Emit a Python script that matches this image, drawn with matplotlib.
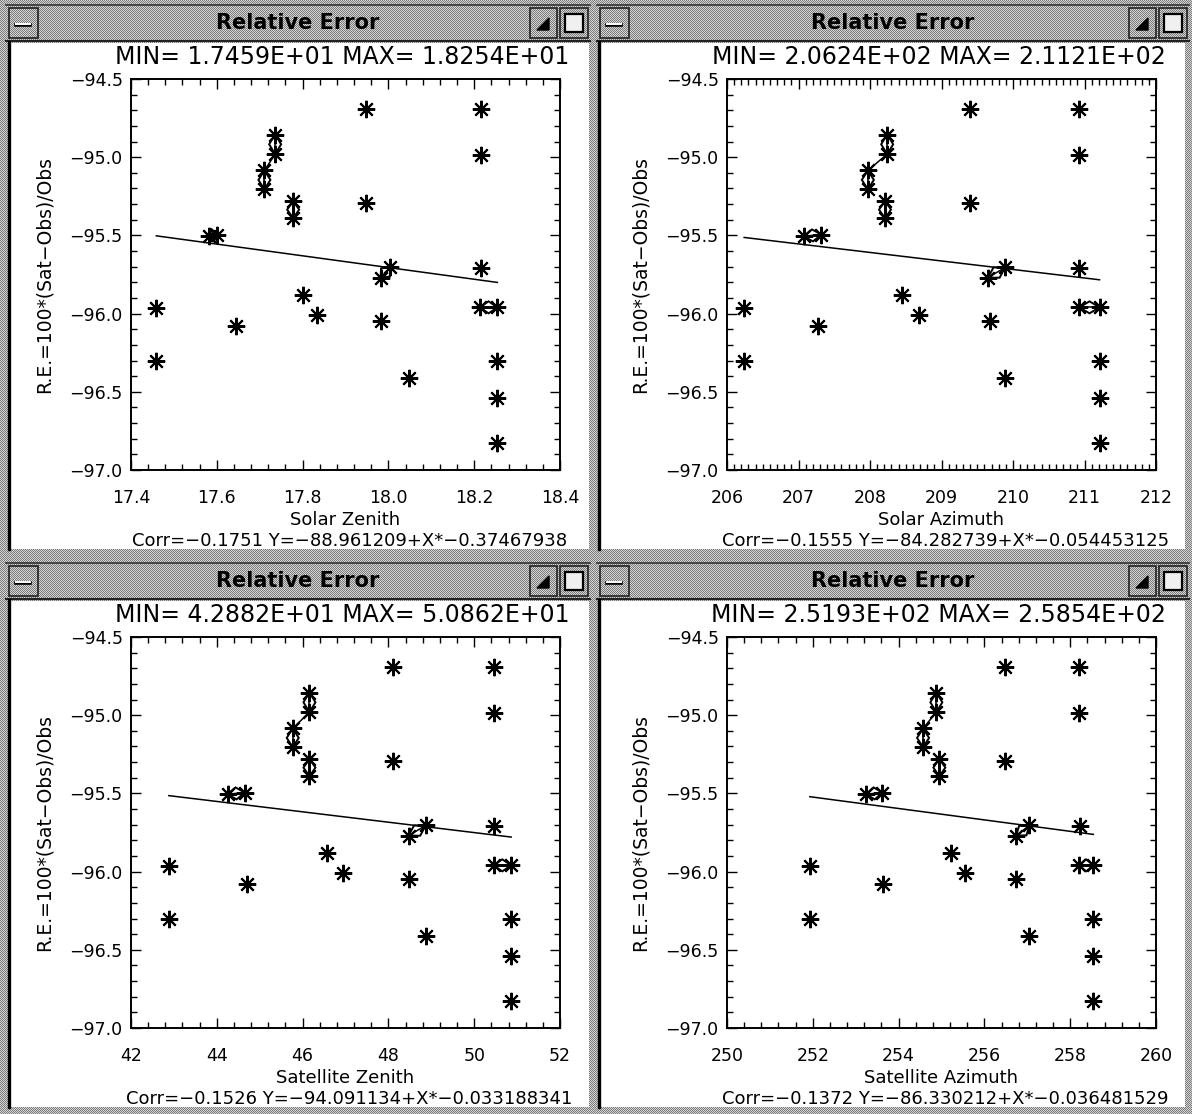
import numpy as np
import matplotlib
matplotlib.use("Agg")
import matplotlib.pyplot as plt
from matplotlib.patches import Rectangle, Polygon
from matplotlib.colors import ListedColormap
from matplotlib.ticker import MultipleLocator, FuncFormatter

# ---------------- data ----------------
rel_error = [-94.69, -94.69, -94.855, -94.98, -95.085, -95.205, -94.985, -95.28, -95.39, -95.29,
             -95.505, -95.495, -95.705, -95.77, -95.71, -95.965, -96.30, -96.08, -95.88, -96.01,
             -96.045, -96.41, -95.96, -95.96, -96.30, -96.54, -96.83]
solar_zenith = [17.947, 18.216, 17.736, 17.736, 17.711, 17.711, 18.216, 17.778, 17.778, 17.947,
                17.582, 17.600, 18.004, 17.982, 18.216, 17.459, 17.459, 17.644, 17.800, 17.834,
                17.982, 18.047, 18.213, 18.254, 18.254, 18.254, 18.254]
solar_azimuth = [209.40, 210.93, 208.24, 208.24, 207.97, 207.97, 210.93, 208.21, 208.21, 209.40,
                 207.07, 207.32, 209.89, 209.65, 210.93, 206.24, 206.24, 207.27, 208.45, 208.69,
                 209.68, 209.89, 210.93, 211.21, 211.21, 211.21, 211.21]
sat_zenith = [48.11, 50.46, 46.16, 46.16, 45.77, 45.77, 50.46, 46.16, 46.16, 48.11,
              44.25, 44.65, 48.87, 48.47, 50.46, 42.88, 42.88, 44.70, 46.56, 46.94,
              48.47, 48.87, 50.45, 50.86, 50.86, 50.86, 50.86]
sat_azimuth = [256.47, 258.20, 254.88, 254.88, 254.57, 254.57, 258.20, 254.95, 254.95, 256.47,
               253.24, 253.62, 257.05, 256.74, 258.23, 251.93, 251.93, 253.63, 255.23, 255.54,
               256.74, 257.05, 258.20, 258.54, 258.54, 258.54, 258.54]

x_series = [solar_zenith, solar_azimuth, sat_zenith, sat_azimuth]
x_names = ["Solar Zenith", "Solar Azimuth", "Satellite Zenith", "Satellite Azimuth"]
x_min = [17.459, 206.24, 42.882, 251.93]
x_max = [18.254, 211.21, 50.862, 258.54]
corr = [-0.1751, -0.1555, -0.1526, -0.1372]
intercept = [-88.961209, -84.282739, -94.091134, -86.330212]
slope = [-0.37467938, -0.054453125, -0.033188341, -0.036481529]
x_limits = [(17.4, 18.4), (206, 212), (42, 52), (250, 260)]
x_major = [0.2, 1, 2, 2]
x_minor = [0.04, 0.1, 0.4, 0.4]
x_decimals = [1, 0, 0, 0]
y_limits = (-97.0, -94.5)
window_title = "Relative Error"
y_label = "R.E.=100*(Sat\u2212Obs)/Obs"

# pairs of consecutive observations drawn joined (diamond) and plain links
diamond_pairs = [(2, 3), (4, 5), (7, 8), (10, 11), (12, 13), (22, 23)]
line_pairs = [(3, 4)]

# ---------------- layout ----------------
W, H = 1192, 1114
fig = plt.figure(figsize=(W / 100, H / 100), dpi=100)
plt.rcParams['font.family'] = ['DejaVu Sans']

bg = fig.add_axes([0, 0, 1, 1])
bg.set_xlim(0, W)
bg.set_ylim(H, 0)
bg.axis("off")

yy, xx = np.mgrid[0:H, 0:W]
tex = ((xx + yy) % 2).astype(float)
bg.imshow(tex, cmap=ListedColormap(["#7c7c7c", "#d4d4d4"]), extent=(0, W, H, 0),
          interpolation="nearest", aspect="auto", zorder=0)

win_x0 = [10, 600]
win_x1 = [589, 1185]
bar_x0 = [6, 597]
bar_x1 = [590, 1189]
row_off = [0, 558]
col_off = [0, 596]


def draw_window(c, r):
    oy = row_off[r]
    x0, x1 = win_x0[c], win_x1[c]
    bx0, bx1 = bar_x0[c], bar_x1[c]
    bg.plot([bx0, bx1], [5 + oy, 5 + oy], color="#333333", lw=1.2, zorder=2)
    bg.plot([bx0, bx1], [41 + oy, 41 + oy], color="#222222", lw=1.5, zorder=2)
    bg.add_patch(Rectangle((x0, 43 + oy), x1 - x0, 506, facecolor="white",
                           edgecolor="none", zorder=1))
    bg.plot([x0 - 1, x0 - 1], [42 + oy, 549 + oy], color="black", lw=2.4, zorder=2)
    bg.add_patch(Rectangle((bx0 + 3, 8 + oy), 29, 30, facecolor="none",
                           edgecolor="#222222", lw=1.2, zorder=2))
    bg.plot([bx0 + 10, bx0 + 24], [25 + oy, 25 + oy], color="black", lw=2.6, zorder=3)
    bg.plot([bx0 + 10, bx0 + 24], [23.5 + oy, 23.5 + oy], color="white", lw=1.4, zorder=3)
    bg.add_patch(Rectangle((bx1 - 60, 8 + oy), 27, 30, facecolor="none",
                           edgecolor="#222222", lw=1.2, zorder=2))
    bg.add_patch(Polygon([[bx1 - 41, 30 + oy], [bx1 - 41, 18 + oy], [bx1 - 53, 30 + oy]],
                         closed=True, facecolor="black", edgecolor="black", zorder=3))
    bg.add_patch(Rectangle((bx1 - 30, 8 + oy), 28, 30, facecolor="none",
                           edgecolor="#222222", lw=1.2, zorder=2))
    bg.add_patch(Rectangle((bx1 - 25, 14 + oy), 18, 18, facecolor="#f0f0f0",
                           edgecolor="black", lw=1.6, zorder=3))
    cx = (bx0 + bx1) / 2
    bg.text(cx, 23 + oy, window_title, ha="center", va="center", fontsize=15,
            fontweight="bold", color="black", zorder=4)


def px_axes(x0, y0, x1, y1):
    return [x0 / W, 1 - y1 / H, (x1 - x0) / W, (y1 - y0) / H]


def make_fmt(dec):
    def f(v, pos):
        s = "%.*f" % (dec, v)
        return s.replace("-", "\u2212")
    return FuncFormatter(f)


base_ax = (131, 79, 560, 470)

for k in range(4):
    r, c = divmod(k, 2)
    draw_window(c, r)
    ox, oy = col_off[c], row_off[r]
    ax_x0, ax_y0, ax_x1, ax_y1 = base_ax[0] + ox, base_ax[1] + oy, base_ax[2] + ox, base_ax[3] + oy
    ax = fig.add_axes(px_axes(ax_x0, ax_y0, ax_x1, ax_y1))
    ax.set_facecolor("white")
    xs = np.array(x_series[k])
    ys = np.array(rel_error)
    ax.set_xlim(*x_limits[k])
    ax.set_ylim(*y_limits)

    fx = np.array([x_min[k], x_max[k]])
    ax.plot(fx, intercept[k] + slope[k] * fx, color="black", lw=1.1, zorder=2)

    T = ax.transData
    for a, b in line_pairs:
        ax.plot([xs[a], xs[b]], [ys[a], ys[b]], color="black", lw=1.1, zorder=2)
    for a, b in diamond_pairs:
        pa = T.transform((xs[a], ys[a]))
        pb = T.transform((xs[b], ys[b]))
        d = pb - pa
        L = np.hypot(*d)
        if L < 1e-6:
            continue
        n = np.array([-d[1], d[0]]) / L * 6.0
        m = (pa + pb) / 2
        pts = T.inverted().transform(np.array([pa, m + n, pb, m - n]))
        ax.add_patch(Polygon(pts, closed=True, fill=False, edgecolor="black", lw=1.4, zorder=2))
        ax.plot([xs[a], xs[b]], [ys[a], ys[b]], color="black", lw=1.1, zorder=2)

    ax.plot(xs, ys, linestyle="none", marker=(8, 2, 0), markersize=12.5,
            markeredgewidth=1.5, color="black", zorder=3)

    ax.xaxis.set_major_locator(MultipleLocator(x_major[k]))
    ax.xaxis.set_minor_locator(MultipleLocator(x_minor[k]))
    ax.xaxis.set_major_formatter(make_fmt(x_decimals[k]))
    ax.yaxis.set_major_locator(MultipleLocator(0.5))
    ax.yaxis.set_minor_locator(MultipleLocator(0.1))
    ax.yaxis.set_major_formatter(make_fmt(1))
    ax.tick_params(which="both", direction="in", top=True, right=True, width=1.0,
                   labelsize=12.5, colors="black")
    ax.tick_params(which="major", length=7)
    ax.tick_params(which="minor", length=4)
    ax.tick_params(axis="x", which="major", pad=14)
    ax.tick_params(axis="y", which="major", pad=6)
    for s in ax.spines.values():
        s.set_linewidth(1.4)
        s.set_color("black")

    cx = (ax_x0 + ax_x1) / 2
    bg.text(cx - 3, 57 + oy, "MIN= %.4E MAX= %.4E" % (x_min[k], x_max[k]), ha="center",
            va="center", fontsize=17, color="black", zorder=4)
    bg.text(cx, 520 + oy, x_names[k], ha="center", va="center", fontsize=13,
            color="black", zorder=4)
    corr_txt = "Corr=%.4f Y=%s+X*%s" % (corr[k], repr(intercept[k]), repr(slope[k]))
    bg.text(cx + 4, 541 + oy, corr_txt.replace("-", "\u2212"), ha="center", va="center",
            fontsize=13, color="black", zorder=4)
    bg.text(44 + ox, (ax_y0 + ax_y1) / 2, y_label, ha="center", va="center",
            rotation=90, fontsize=13.5, color="black", zorder=4)

fig.savefig("out.png", dpi=100)
